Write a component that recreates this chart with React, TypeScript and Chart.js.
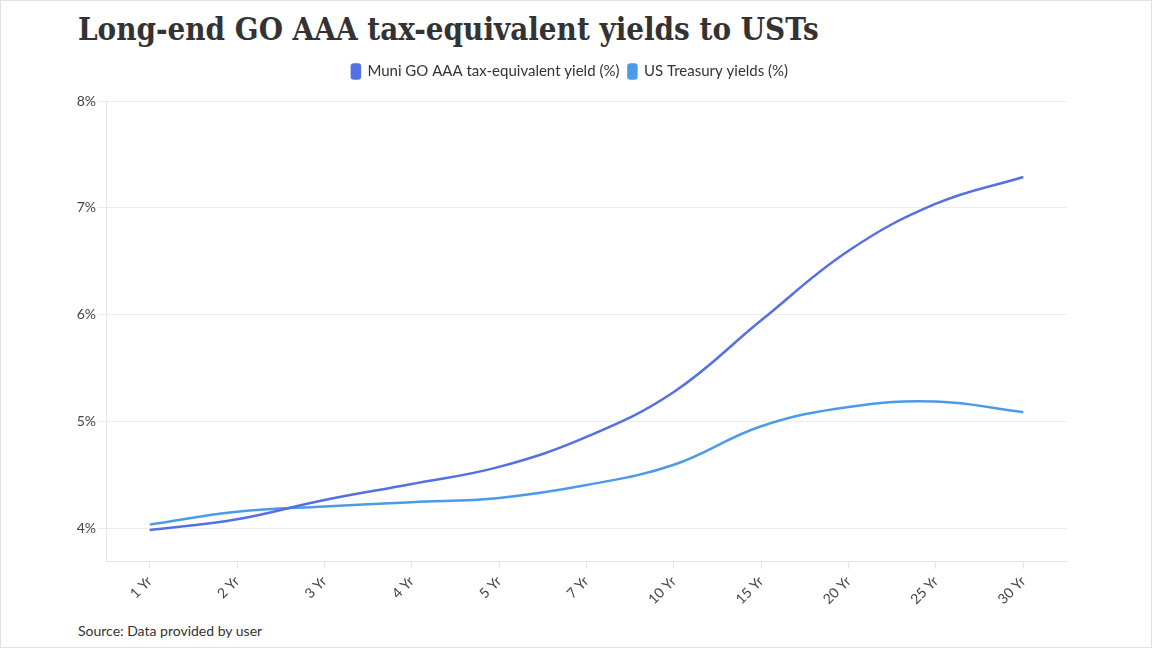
import React, { useEffect, useRef } from "react";
import { Chart, registerables } from "chart.js";

Chart.register(...registerables);

// tenors on the x axis
const tenors: string[] = ["1 Yr", "2 Yr", "3 Yr", "4 Yr", "5 Yr", "7 Yr", "10 Yr", "15 Yr", "20 Yr", "25 Yr", "30 Yr"];
// yields in percent
const muniYields: number[] = [3.99, 4.09, 4.27, 4.42, 4.58, 4.86, 5.28, 5.95, 6.6, 7.04, 7.29];
const treasuryYields: number[] = [4.04, 4.16, 4.21, 4.25, 4.29, 4.41, 4.6, 4.96, 5.14, 5.19, 5.09];
const yTicks: number[] = [4, 5, 6, 7, 8];

const MUNI_COLOR = "#5470e3";
const UST_COLOR = "#4c9bea";

// adds some room under the legend
const legendSpacer = {
  id: "legendSpacer",
  beforeInit(chart: any) {
    const legend = chart.legend;
    if (!legend) return;
    const origFit = legend.fit;
    legend.fit = function () {
      origFit.bind(this)();
      this.height += 12;
    };
  },
};

const App: React.FC = () => {
  const canvasRef = useRef<HTMLCanvasElement | null>(null);
  const chartRef = useRef<Chart | null>(null);

  useEffect(() => {
    document.body.style.margin = "0";
    if (!canvasRef.current) return;
    if (chartRef.current) chartRef.current.destroy();

    chartRef.current = new Chart(canvasRef.current, {
      type: "line",
      data: {
        labels: tenors,
        datasets: [
          {
            label: "Muni GO AAA tax-equivalent yield (%)",
            data: muniYields,
            borderColor: MUNI_COLOR,
            backgroundColor: MUNI_COLOR,
            borderWidth: 2.5,
            pointRadius: 0,
            tension: 0.4,
          },
          {
            label: "US Treasury yields (%)",
            data: treasuryYields,
            borderColor: UST_COLOR,
            backgroundColor: UST_COLOR,
            borderWidth: 2.5,
            pointRadius: 0,
            tension: 0.4,
          },
        ],
      },
      options: {
        animation: false,
        responsive: true,
        maintainAspectRatio: false,
        layout: { padding: { left: 72, right: 84, top: 0, bottom: 2 } },
        plugins: {
          legend: {
            position: "top",
            labels: {
              font: { family: "Lato", size: 15 },
              color: "#333",
              boxWidth: 8,
              boxHeight: 14,
              useBorderRadius: true,
              borderRadius: 2,
              padding: 9,
            },
          },
          tooltip: { enabled: false },
        },
        scales: {
          x: {
            offset: true,
            grid: {
              offset: false,
              drawOnChartArea: false,
              color: "#e6e6e6",
              tickLength: 8,
            },
            border: { color: "#e6e6e6" },
            ticks: {
              font: { family: "Lato", size: 14 },
              color: "#444",
              maxRotation: 45,
              minRotation: 45,
              padding: 4,
            },
            afterFit: (scale: any) => {
              scale.height = 48;
            },
          },
          y: {
            min: 3.7,
            max: 8,
            grid: { color: "#ececec", tickLength: 8 },
            border: { color: "#e6e6e6" },
            afterBuildTicks: (scale: any) => {
              scale.ticks = yTicks.map((v) => ({ value: v }));
            },
            ticks: {
              font: { family: "Lato", size: 14 },
              color: "#444",
              padding: 2,
              callback: (v: any) => `${v}%`,
            },
            afterFit: (scale: any) => {
              scale.width = 33;
            },
          },
        },
      },
      plugins: [legendSpacer],
    });

    return () => {
      if (chartRef.current) {
        chartRef.current.destroy();
        chartRef.current = null;
      }
    };
  }, []);

  return (
    <div
      style={{
        position: "relative",
        width: 1152,
        height: 648,
        boxSizing: "border-box",
        border: "1px solid #e2e2e2",
        background: "#fff",
        overflow: "hidden",
      }}
    >
      <div
        style={{
          position: "absolute",
          left: 77,
          top: 8,
          fontFamily: "'DejaVu Serif Condensed', 'DejaVu Serif', serif",
          fontWeight: 700,
          fontSize: 31,
          lineHeight: "40px",
          color: "#333",
          whiteSpace: "nowrap",
        }}
      >
        Long-end GO AAA tax-equivalent yields to USTs
      </div>
      <div style={{ position: "absolute", left: 0, top: 54, width: 1150, height: 556 }}>
        <canvas ref={canvasRef} />
      </div>
      <div
        style={{
          position: "absolute",
          left: 77,
          top: 621,
          fontFamily: "Lato",
          fontSize: 14,
          color: "#333",
        }}
      >
        Source: Data provided by user
      </div>
    </div>
  );
};

export default App;
